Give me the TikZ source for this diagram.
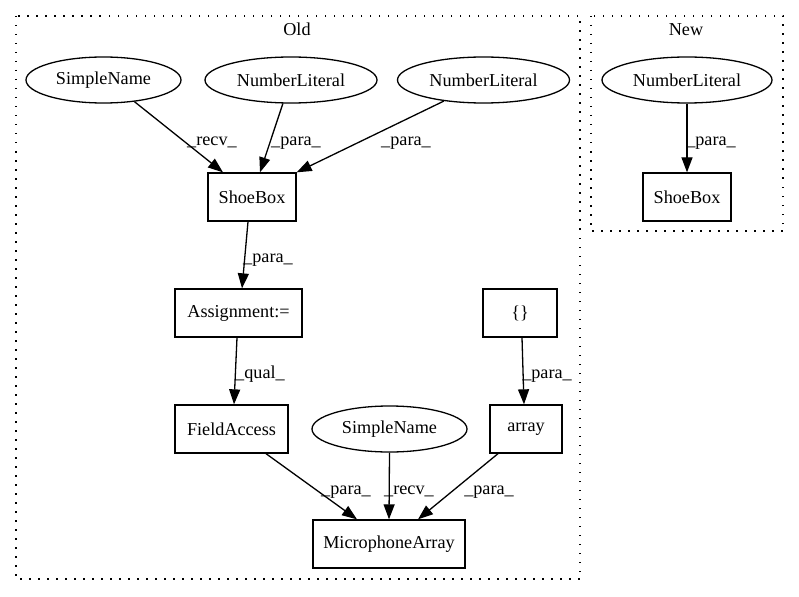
\documentclass[tikz,border=0pt]{standalone}
\usepackage{fontspec}
\setmainfont{Liberation Serif}
\usetikzlibrary{arrows.meta,shapes.geometric}
\begin{document}
\begin{tikzpicture}[x=1pt,y=-1pt,
  font=\fontsize{18.2}{22}\selectfont,
  ell/.style={draw,ellipse,line width=1.3pt,inner sep=0pt,minimum height=46pt},
  box/.style={draw,rectangle,line width=1.3pt,inner sep=0pt,minimum height=48pt},
  edge/.style={line width=1.3pt,-{Triangle[length=15pt,width=11pt]}},
  elab/.style={anchor=base,inner sep=0pt},
  cluster/.style={line width=1.3pt,dash pattern=on 1.5pt off 7.5pt}]
\useasboundingbox (0,0) rectangle (799,596);
% clusters
\draw[cluster] (16,16) rectangle (580,579);
\node[elab] (oldlab) at (297,36) {Old};
\draw[cluster] (591,16) rectangle (783,231);
\node[elab] (newlab) at (686,36) {New};
% nodes
\node[ell,minimum width=155pt] (sna) at (103.5,80) {SimpleName};
\node[ell,minimum width=172pt] (nla) at (291,80) {NumberLiteral};
\node[ell,minimum width=172pt] (nlb) at (483.5,80) {NumberLiteral};
\node[box,minimum width=88pt] (sba) at (252,197) {ShoeBox};
\node[box,minimum width=127pt] (asg) at (238.5,313) {Assignment:=};
\node[box,minimum width=74pt] (brc) at (520,313) {\{\}};
\node[box,minimum width=113pt] (fa) at (231.5,429) {FieldAccess};
\node[ell,minimum width=155pt] (snb) at (389.5,429) {SimpleName};
\node[box,minimum width=72pt] (arr) at (526,429) {array};
\node[box,minimum width=152pt] (mic) at (389,544) {MicrophoneArray};
\node[ell,minimum width=170pt] (nlc) at (687,80) {NumberLiteral};
\node[box,minimum width=88pt] (sbb) at (687,197) {ShoeBox};
% edges
\draw[edge] (sna.-35) -- ([xshift=-29pt]sba.north);
\draw[edge] (nla.-109) -- ([xshift=8pt]sba.north);
\draw[edge] (nlb.-152) -- (sba.north east);
\draw[edge] ([xshift=-4pt]sba.south) -- ([xshift=3.5pt]asg.north);
\draw[edge] ([xshift=-1.5pt]asg.south) -- ([xshift=2.5pt]fa.north);
\draw[edge] ([xshift=2pt]brc.south) -- ([xshift=-2pt]arr.north);
\draw[edge] ([xshift=34.5pt]fa.south) -- ([xshift=-32pt]mic.north);
\draw[edge] (snb.south) -- (mic.north);
\draw[edge] ([xshift=-28pt]arr.south) -- ([xshift=29pt]mic.north);
\draw[edge] (nlc.south) -- (sbb.north);
% edge labels
\node[elab] (l1) at (212,146) {\_recv\_};
\node[elab] (l2) at (296,146) {\_para\_};
\node[elab] (l3) at (406,146) {\_para\_};
\node[elab] (l4) at (268,262) {\_para\_};
\node[elab] (l5) at (260,378) {\_qual\_};
\node[elab] (l6) at (547,378) {\_para\_};
\node[elab] (l7) at (346,494) {\_para\_};
\node[elab] (l8) at (409,494) {\_recv\_};
\node[elab] (l9) at (489,494) {\_para\_};
\node[elab] (l10) at (711,146) {\_para\_};
\end{tikzpicture}
\end{document}
